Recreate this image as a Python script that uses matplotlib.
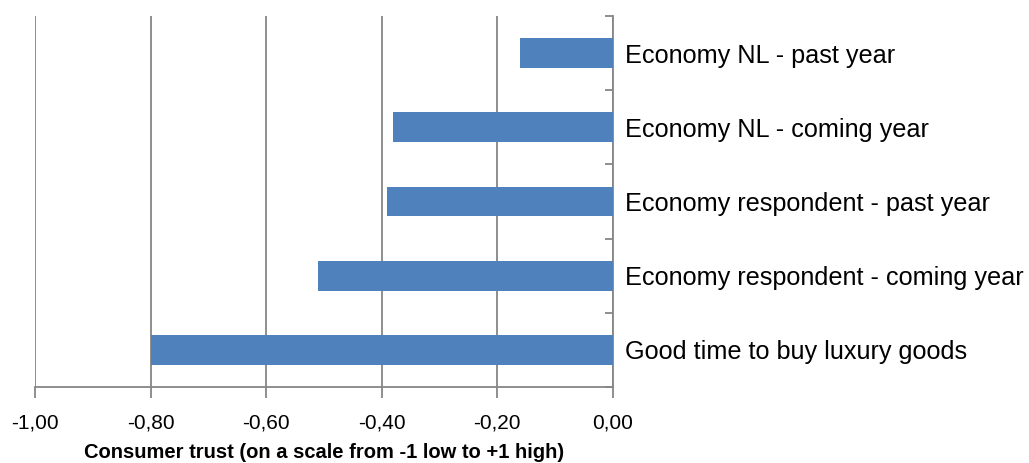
import matplotlib
matplotlib.use("Agg")
import matplotlib.pyplot as plt
import numpy as np

categories = ["Economy NL - past year", "Economy NL - coming year",
              "Economy respondent - past year", "Economy respondent - coming year",
              "Good time to buy luxury goods"]
values = [-0.16, -0.38, -0.39, -0.51, -0.80]
xticks = [-1.0, -0.8, -0.6, -0.4, -0.2, 0.0]
xticklabels = ["-1,00", "-0,80", "-0,60", "-0,40", "-0,20", "0,00"]

W, H = 1029, 463
fig = plt.figure(figsize=(W / 100, H / 100), dpi=100)
ax = fig.add_axes([35 / W, 1 - 387 / H, (612.7 - 35) / W, (387 - 16) / H])

n = len(categories)
ypos = np.arange(n)
ax.barh(ypos, values, height=0.4, color="#4F81BD", zorder=3)
ax.set_ylim(n - 0.5, -0.5)
ax.set_xlim(-1.0, 0.0)

gray = "#868686"
ax.set_xticks(xticks)
ax.set_xticklabels(xticklabels, fontsize=15, family="Liberation Sans")
ax.xaxis.grid(True, color=gray, linewidth=1.3, zorder=0)
ax.tick_params(axis="x", direction="out", length=8, width=1.3, color=gray, pad=11)

for s in ["left", "top"]:
    ax.spines[s].set_visible(False)
for s in ["right", "bottom"]:
    ax.spines[s].set_color(gray)
    ax.spines[s].set_linewidth(1.3)

ax.yaxis.tick_right()
ax.set_yticks(ypos)
ax.set_yticklabels(categories, fontsize=18.2, family="Liberation Sans")
ax.set_yticks(np.arange(n + 1) - 0.5, minor=True)
ax.tick_params(axis="y", which="major", length=0, pad=9)
ax.tick_params(axis="y", which="minor", direction="in", length=6, width=1.3, color=gray)

ax.set_xlabel("Consumer trust (on a scale from -1 low to +1 high)", fontsize=14.5,
              fontweight="bold", family="Liberation Sans", labelpad=8)

fig.savefig("out.png", dpi=100)
